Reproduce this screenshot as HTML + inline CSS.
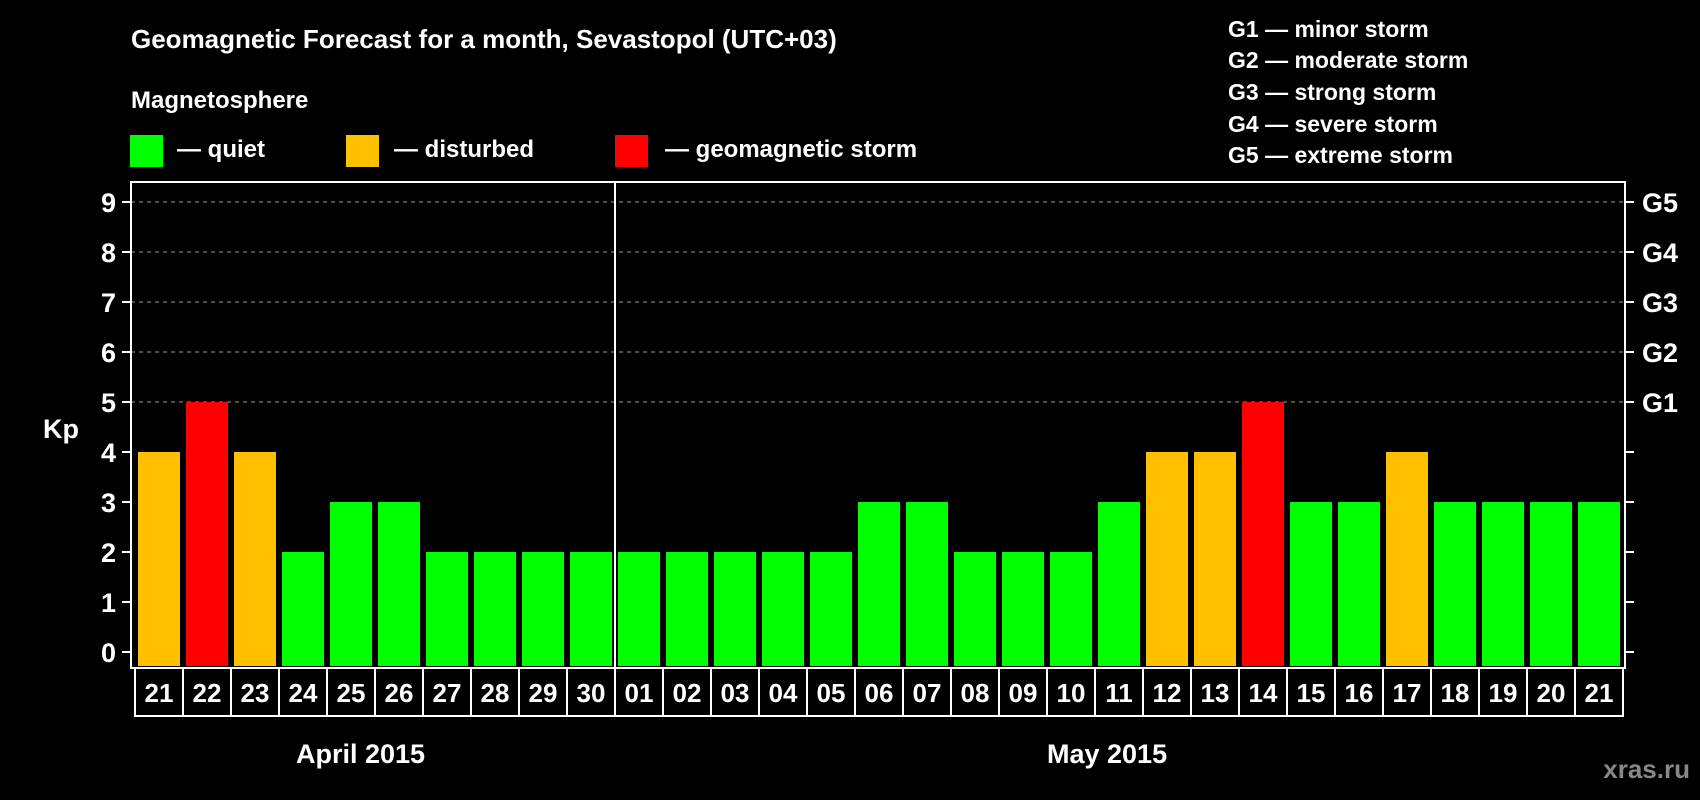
<!DOCTYPE html>
<html><head><meta charset="utf-8"><style>
html,body{margin:0;padding:0;background:#000;}
svg{display:block;font-family:"Liberation Sans",Arial,sans-serif;font-weight:bold;}
</style></head><body>
<svg id="chart" width="1700" height="800" viewBox="0 0 1700 800" xmlns="http://www.w3.org/2000/svg">
<rect width="1700" height="800" fill="#000"/>
<text x="131" y="48" fill="#fff" font-size="26">Geomagnetic Forecast for a month, Sevastopol (UTC+03)</text>
<text x="131" y="108" fill="#fff" font-size="24">Magnetosphere</text>
<g><rect x="130" y="135" width="33" height="32" fill="#00ff00"/><text x="177" y="157" fill="#fff" font-size="24">— quiet</text></g>
<g><rect x="346" y="135" width="33" height="32" fill="#ffc000"/><text x="394" y="157" fill="#fff" font-size="24">— disturbed</text></g>
<g><rect x="615" y="135" width="33" height="32" fill="#ff0000"/><text x="665" y="157" fill="#fff" font-size="24">— geomagnetic storm</text></g>
<g fill="#fff" font-size="23">
<text x="1228" y="37">G1 — minor storm</text>
<text x="1228" y="68">G2 — moderate storm</text>
<text x="1228" y="100">G3 — strong storm</text>
<text x="1228" y="132">G4 — severe storm</text>
<text x="1228" y="163">G5 — extreme storm</text>
</g>
<text x="43" y="438" fill="#fff" font-size="27">Kp</text>
<g id="plot"></g>
<text x="296" y="763" fill="#fff" font-size="27">April 2015</text>
<text x="1047" y="763" fill="#fff" font-size="27">May 2015</text>
<text x="1690" y="778" fill="#888" font-size="26" text-anchor="end">xras.ru</text>
</svg>
<script>
const days = ["21","22","23","24","25","26","27","28","29","30","01","02","03","04","05","06","07","08","09","10","11","12","13","14","15","16","17","18","19","20","21"];
const kpValues = [4,5,4,2,3,3,2,2,2,2,2,2,2,2,2,3,3,2,2,2,3,4,4,5,3,3,4,3,3,3,3];
const yTicks = [0,1,2,3,4,5,6,7,8,9];
const gLabels = ["G1","G2","G3","G4","G5"];
const NS = "http://www.w3.org/2000/svg";
const plot = document.getElementById('plot');
const L = 131, R = 1625, T = 182, B = 668;
const y = v => 652 - v * 50;
const xBar = i => 138 + i * 48;
const BW = 42;
function mk(tag, attrs, parent) {
  const e = document.createElementNS(NS, tag);
  for (const k in attrs) e.setAttribute(k, attrs[k]);
  (parent || plot).appendChild(e);
  return e;
}
yTicks.forEach(v => {
  if (v >= 5) {
    const g = mk('line', {x1: L, x2: R, y1: y(v), y2: y(v), stroke: '#999', 'stroke-width': 1, 'stroke-dasharray': '4,4'});
    
    
  }
  const t1 = mk('line', {x1: L - 9, x2: L, y1: y(v), y2: y(v), stroke: '#fff', 'stroke-width': 2});
  
  
  const t2 = mk('line', {x1: R, x2: R + 9, y1: y(v), y2: y(v), stroke: '#fff', 'stroke-width': 2});
  
  
  const lab = mk('text', {x: 116, y: y(v) + 10, fill: '#fff', 'font-size': 27, 'text-anchor': 'end'});
  lab.textContent = v;
  
  
});
gLabels.forEach((g, i) => {
  const t = mk('text', {x: 1642, y: y(5 + i) + 10, fill: '#fff', 'font-size': 27});
  t.textContent = g;
  
  
});
kpValues.forEach((v, i) => {
  const c = v >= 5 ? '#ff0000' : (v >= 4 ? '#ffc000' : '#00ff00');
  const b = mk('rect', {x: xBar(i), y: y(v), width: BW, height: B - 2 - y(v), fill: c});
  
  
});
const frame = mk('rect', {x: L, y: T, width: R - L, height: B - T, fill: 'none', stroke: '#fff', 'stroke-width': 2});


const split = days.indexOf("01");
const dv = mk('line', {x1: xBar(split) - 3, x2: xBar(split) - 3, y1: T, y2: B, stroke: '#fff', 'stroke-width': 2});


const box = mk('rect', {x: 135, y: B, width: days.length * 48, height: 48, fill: 'none', stroke: '#fff', 'stroke-width': 2});


days.forEach((d, i) => {
  if (i > 0) {
    const l = mk('line', {x1: 135 + i * 48, x2: 135 + i * 48, y1: B, y2: B + 48, stroke: '#fff', 'stroke-width': 2});
    
    
  }
  const t = mk('text', {x: xBar(i) + BW / 2, y: B + 34, fill: '#fff', 'font-size': 26, 'text-anchor': 'middle'});
  t.textContent = d;
  
  
});
</script>
</body></html>
